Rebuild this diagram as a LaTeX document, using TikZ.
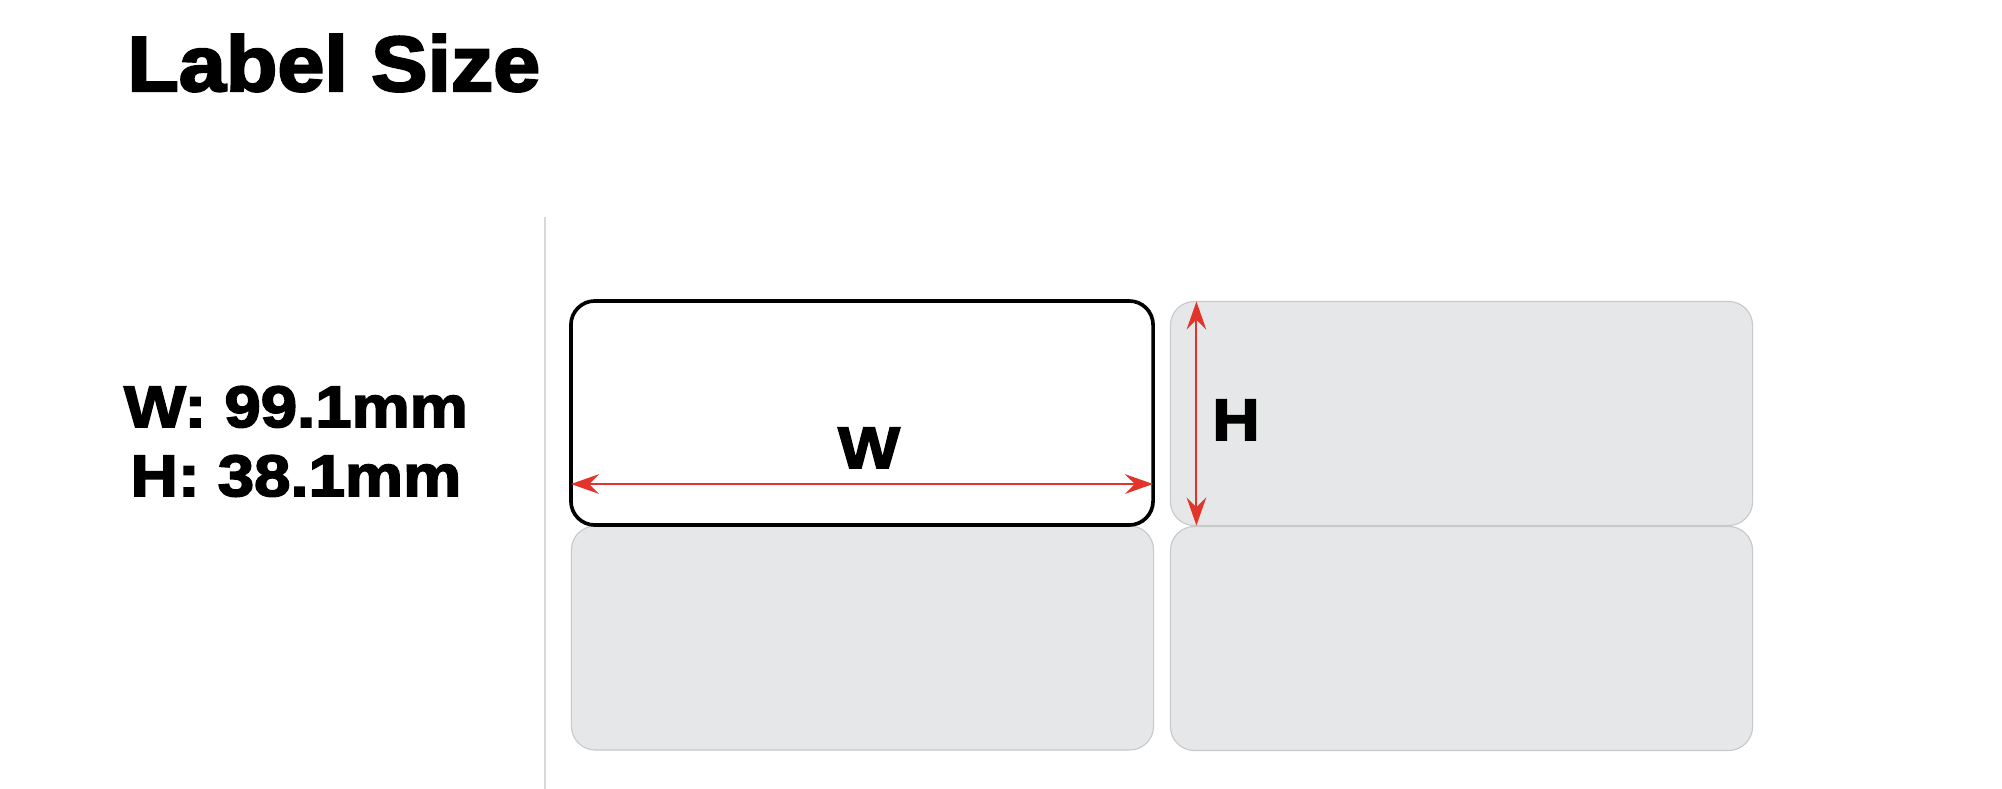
\documentclass[tikz,border=0pt]{standalone}
\usepackage{fontspec}
\newfontfamily\heavy[FakeBold=3,FakeStretch=1.08]{Liberation Sans Bold}
\newfontfamily\heavywide[FakeBold=3,FakeStretch=1.12]{Liberation Sans Bold}
\usetikzlibrary{arrows.meta,calc}

\definecolor{labelGray}{HTML}{E6E7E8}
\definecolor{edgeGray}{HTML}{C8C9CB}
\definecolor{dividerGray}{HTML}{D9D9D9}
\definecolor{arrowRed}{HTML}{E3342C}

\tikzset{
    sheetLabel/.style={rectangle, rounded corners=17pt, inner sep=0pt, outer sep=0pt,
        minimum width=14.55cm, minimum height=5.6cm},
    blankLabel/.style={sheetLabel, fill=labelGray, draw=edgeGray, line width=0.8pt},
    markedLabel/.style={sheetLabel, fill=white, draw=black, line width=2.6pt},
    dimArrow/.style={arrowRed, line width=1.4pt,
        {Stealth[length=20pt, width=14pt, inset=7pt]}-{Stealth[length=20pt, width=14pt, inset=7pt]}},
    bigText/.style={inner sep=0pt, font=\heavy\fontsize{55.6}{60}\selectfont},
    sizeText/.style={inner sep=0pt, font=\heavywide\fontsize{41.5}{46}\selectfont}
}

\begin{document}
\begin{tikzpicture}[x=0.025cm, y=-0.025cm]
    \useasboundingbox (0,0) rectangle (2002,789);

    % heading and sizes
    \node[bigText, anchor=base west] (title) at (127,91) {Label Size};
    \node[sizeText, anchor=base] (sizeW) at (296,427) {W: 99.1mm};
    \node[sizeText, anchor=base] (sizeH) at (296,496) {H: 38.1mm};

    % divider
    \coordinate (divTop) at (545,217);
    \coordinate (divBot) at (545,789);
    \draw[dividerGray, line width=1.5pt] (divTop) -- (divBot);

    % the label sheet
    \node[blankLabel] (lbl12) at (1461.5,413.5) {};
    \node[blankLabel] (lbl21) at (862.5,638) {};
    \node[blankLabel] (lbl22) at (1461.5,638.5) {};
    \node[markedLabel] (lbl11) at (862,413) {};

    % width
    \coordinate (wLeft) at ($(lbl11.south west)+(0,-41)$);
    \coordinate (wRight) at ($(lbl11.south east)+(0,-41)$);
    \draw[dimArrow] (wLeft) -- (wRight);
    \node[sizeText, anchor=base] (wMark) at (869,468) {W};

    % height
    \coordinate (hTop) at ($(lbl12.north west)+(26,0)$);
    \coordinate (hBot) at ($(lbl12.south west)+(26,0)$);
    \draw[dimArrow] (hTop) -- (hBot);
    \node[sizeText, anchor=base] (hMark) at (1236,440) {H};
\end{tikzpicture}
\end{document}
